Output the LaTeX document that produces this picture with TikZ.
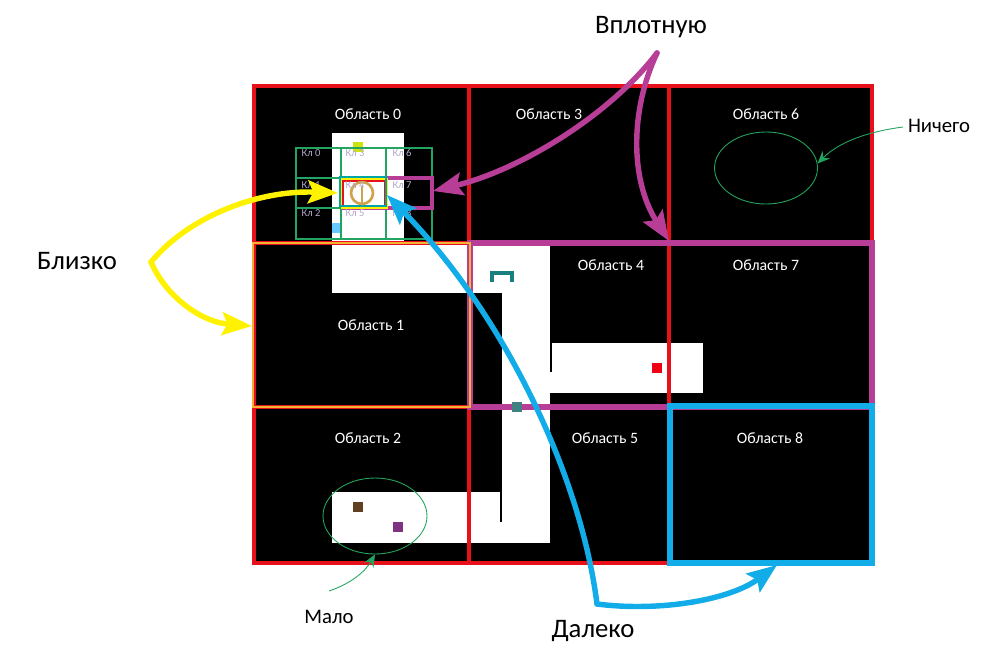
\documentclass[tikz,border=0pt]{standalone}
\usepackage{fontspec}
\setmainfont{Carlito}
\usetikzlibrary{arrows.meta,shapes.geometric}
\definecolor{zonered}{HTML}{E8101A}
\definecolor{zonepurple}{HTML}{B83D96}
\definecolor{zoneblue}{HTML}{12ADE8}
\definecolor{zoneyellow}{HTML}{FFF200}
\definecolor{zoneorange}{HTML}{F2B233}
\definecolor{cellgreen}{HTML}{22A560}
\definecolor{celltext}{HTML}{B4A8CC}
\begin{document}
\begin{tikzpicture}[x=0.02cm,y=-0.02cm]
  \tikzstyle{areanode}=[text=white, font=\fontsize{9}{10}\selectfont, inner sep=0pt]
  \tikzstyle{cellnode}=[text=celltext, font=\fontsize{6}{7}\selectfont, inner sep=0pt]
  \tikzstyle{bignode}=[text=black, font=\fontsize{15.2}{18}\selectfont, inner sep=0pt]
  \tikzstyle{smallnode}=[text=black, font=\fontsize{11.8}{14}\selectfont, inner sep=0pt]
  \tikzstyle{wallline}=[draw=zonered, line width=2.3pt]
  \tikzstyle{bigarrow}=[line width=3.1pt, line cap=round, -{Stealth[length=17pt,width=13pt,inset=3pt]}]
  \tikzstyle{thinarrow}=[draw=cellgreen, line width=0.5pt, -{Stealth[length=7pt,width=6pt]}]
  \tikzstyle{item}=[draw=none, minimum size=6.2pt, inner sep=0pt]
  \tikzstyle{ringnode}=[draw=cellgreen, line width=0.5pt, ellipse, inner sep=0pt]
  \useasboundingbox (0,0) rectangle (983,660);
  % field and corridors
  \fill[black] (254,86) rectangle (872,563);
  \fill[white] (332,133) rectangle (404,245);
  \fill[white] (332,245) rectangle (550,293);
  \fill[white] (502,293) rectangle (550,543);
  \fill[white] (332,492) rectangle (550,543);
  \fill[white] (550,372) rectangle (552,393);
  \fill[white] (552,343) rectangle (703,393);
  \draw[black, line width=1pt] (501,492) -- (501,522);
  % moving things
  \node[item, fill=yellow!80!green] (thing0) at (358,147) {};
  \node[item, fill=blue!35!cyan!60!white] (thing1) at (337,228) {};
  \node[item, fill=red!75!purple] (thing2) at (657,368) {};
  \node[item, fill=brown!50!black] (thing3) at (358,507) {};
  \node[item, fill=violet!60!gray] (thing4) at (398,527) {};
  \draw[teal!80!gray, line width=2pt] (492,282) -- (492,273) -- (512,273) -- (512,282);
  % borders
  \draw[wallline] (254,86) rectangle (872,563);
  \draw[wallline] (469,86) -- (469,563);
  \draw[wallline] (669,86) -- (669,563);
  \draw[wallline] (254,243) -- (872,243);
  \draw[wallline] (254,407) -- (872,407);
  \draw[zonepurple, line width=2.9pt] (470,243) rectangle (872,407);
  \draw[wallline] (669,246) -- (669,404);
  \draw[zoneorange, line width=1.1pt] (253,243) rectangle (470,407);
  \draw[zoneblue, line width=3.4pt] (670,406) rectangle (872,563);
  \node[item, fill=teal!50!gray] (thing5) at (517,407) {};
  % cells
  \foreach \col/\xa/\xb in {0/296/341,1/341/386,2/386/432}{
    \foreach \row/\ya/\yb in {0/148/178,1/178/208,2/208/239}{
      \draw[cellgreen, line width=0.8pt] (\xa,\ya) rectangle (\xb,\yb);
    }
  }
  \draw[zonepurple, line width=2.6pt] (386,178) -- (432,178) -- (432,208) -- (342,208);
  \draw[zoneyellow, line width=0.8pt] (342,179) rectangle (387,208);
  \draw[zonered, line width=0.8pt] (343,181) rectangle (385,206);
  \draw[teal!70!cyan, line width=1.1pt] (340,177) rectangle (386,206);
  \draw[zoneorange!70!gray, line width=1.5pt] (362,193) circle (11);
  \draw[zoneorange!70!gray, line width=1.5pt] (362,186) -- (362,203);
  \node[cellnode] (cell0) at (311,153) {Кл 0};
  \node[cellnode] (cell1) at (311,185) {Кл 1};
  \node[cellnode] (cell2) at (311,213) {Кл 2};
  \node[cellnode] (cell3) at (355,153) {Кл 3};
  \node[cellnode] (cell4) at (355,185) {Кл 4};
  \node[cellnode] (cell5) at (355,213) {Кл 5};
  \node[cellnode] (cell6) at (402,153) {Кл 6};
  \node[cellnode] (cell7) at (402,185) {Кл 7};
  \node[cellnode] (cell8) at (402,213) {Кл 8};
  % areas
  \node[areanode] (area0) at (368,114) {Область 0};
  \node[areanode] (area1) at (371,325) {Область 1};
  \node[areanode] (area2) at (368,438) {Область 2};
  \node[areanode] (area3) at (549,114) {Область 3};
  \node[areanode] (area4) at (611,265) {Область 4};
  \node[areanode] (area5) at (605,438) {Область 5};
  \node[areanode] (area6) at (766,114) {Область 6};
  \node[areanode] (area7) at (766,265) {Область 7};
  \node[areanode] (area8) at (770,438) {Область 8};
  % rings and thin arrows
  \node[ringnode, minimum width=2.06cm, minimum height=1.44cm] (ring6) at (766,168) {};
  \node[ringnode, minimum width=2.08cm, minimum height=1.52cm] (ring2) at (375,516) {};
  \node[smallnode] (nothing) at (939,126) {Ничего};
  \node[smallnode] (little) at (329,617) {Мало};
  \coordinate (nothingtail) at (903,127);
  \coordinate (littletail) at (329,591);
  \draw[thinarrow] (nothingtail) .. controls (865,132) and (838,143) .. (ring6.5);
  \draw[thinarrow] (littletail) .. controls (350,584) and (365,572) .. (ring2.-90);
  % big arrows
  \node[bignode] (close) at (77,261) {Близко};
  \node[bignode] (tight) at (651,27) {Вплотную};
  \node[bignode] (far) at (593,631) {Далеко};
  \coordinate (closeapex) at (151,262);
  \coordinate (tightapex) at (657,53);
  \coordinate (farapex) at (597,604);
  \coordinate (cellfour) at (338,193);
  \coordinate (cellseven) at (433,191);
  \coordinate (corner) at (669,241);
  \coordinate (cellmid) at (387,195);
  \coordinate (areaone) at (252,326);
  \coordinate (areaeight) at (777,565);
  \draw[bigarrow, zoneyellow] (closeapex) .. controls (190,215) and (260,190) .. (cellfour);
  \draw[bigarrow, zoneyellow] (closeapex) .. controls (165,295) and (200,322) .. (areaone);
  \draw[bigarrow, zonepurple] (tightapex) .. controls (610,115) and (520,170) .. (cellseven);
  \draw[bigarrow, zonepurple] (tightapex) .. controls (630,110) and (630,180) .. (corner);
  \draw[bigarrow, zoneblue] (farapex) .. controls (580,470) and (500,310) .. (cellmid);
  \draw[bigarrow, zoneblue] (farapex) .. controls (660,612) and (730,600) .. (areaeight);
\end{tikzpicture}
\end{document}
